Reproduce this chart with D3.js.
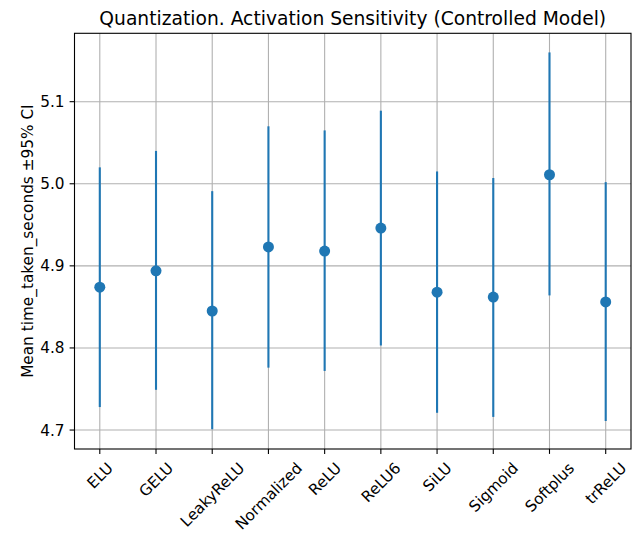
<!DOCTYPE html>
<html lang="en">
  <head>
    <meta charset="utf-8">
    <title>activation sensitivity</title>
    <script type="text/javascript" src="https://d3js.org/d3.v7.min.js"></script>
    <style>
      body { margin: 0; background: #fff; }
      text { font-family: "DejaVu Sans", sans-serif; fill: #000; }
    </style>
  </head>
  <body>

    <svg id="chart"></svg>

    <script type="text/javascript">

    // DATA
    const activations = ['ELU', 'GELU', 'LeakyReLU', 'Normalized', 'ReLU', 'ReLU6', 'SiLU', 'Sigmoid', 'Softplus', 'trReLU'];
    const means = [4.874, 4.894, 4.845, 4.923, 4.918, 4.946, 4.868, 4.862, 5.011, 4.856];
    const ciLow = [4.728, 4.749, 4.701, 4.776, 4.772, 4.803, 4.721, 4.716, 4.864, 4.711];
    const ciHigh = [5.020, 5.040, 4.991, 5.070, 5.065, 5.089, 5.015, 5.007, 5.160, 5.002];
    const yTicks = [4.7, 4.8, 4.9, 5.0, 5.1];

    const data = activations.map((name, i) => ({
      name: name,
      i: i,
      mean: means[i],
      lo: ciLow[i],
      hi: ciHigh[i]
    }));


    // DIMENSIONS

    const width = 643;
    const height = 533;

    const margin = {
      top: 33.3,
      right: 12,
      bottom: 84,
      left: 74.5
    };

    const svg = d3.select('#chart')
      .attr('width', width)
      .attr('height', height);

    // categorical axis like matplotlib: 5% padding either side
    const x = d3.scaleLinear()
      .domain([-0.45, activations.length - 1 + 0.45])
      .range([margin.left, width - margin.right]);

    const y = d3.scaleLinear()
      .domain([4.6769, 5.1833])
      .range([height - margin.bottom, margin.top]);

    const x0 = margin.left, x1 = width - margin.right;
    const y0 = height - margin.bottom, y1 = margin.top;

    const fs = 15.3; // tick + axis label size


    // GRID

    const grid = svg.append('g');

    grid.selectAll('line.gx')
      .data(data)
      .join('line')
      .attr('class', 'gx')
      .attr('x1', d => x(d.i))
      .attr('x2', d => x(d.i))
      .attr('y1', y0)
      .attr('y2', y1);

    grid.selectAll('line.gy')
      .data(yTicks)
      .join('line')
      .attr('class', 'gy')
      .attr('x1', x0)
      .attr('x2', x1)
      .attr('y1', d => y(d))
      .attr('y2', d => y(d));

    grid.selectAll('line')
      .attr('stroke', '#b0b0b0')
      .attr('stroke-width', 1.1);


    // ERROR BARS

    svg.append('g')
      .selectAll('line')
      .data(data)
      .join('line')
      .attr('x1', d => x(d.i))
      .attr('x2', d => x(d.i))
      .attr('y1', d => y(d.lo))
      .attr('y2', d => y(d.hi))
      .attr('stroke', '#1f77b4')
      .attr('stroke-width', 2.1);

    svg.append('g')
      .selectAll('circle')
      .data(data)
      .join('circle')
      .attr('cx', d => x(d.i))
      .attr('cy', d => y(d.mean))
      .attr('r', 5.5)
      .attr('fill', '#1f77b4');


    // AXES

    svg.append('rect')
      .attr('x', x0)
      .attr('y', y1)
      .attr('width', x1 - x0)
      .attr('height', y0 - y1)
      .attr('fill', 'none')
      .attr('stroke', '#000')
      .attr('stroke-width', 1.1);

    // y ticks
    const yAxis = svg.append('g');
    yAxis.selectAll('line')
      .data(yTicks)
      .join('line')
      .attr('x1', x0 - 4.9)
      .attr('x2', x0)
      .attr('y1', d => y(d))
      .attr('y2', d => y(d))
      .attr('stroke', '#000')
      .attr('stroke-width', 1.1);

    yAxis.selectAll('text')
      .data(yTicks)
      .join('text')
      .text(d => d3.format('.1f')(d))
      .attr('x', x0 - 4.9 - 5)
      .attr('y', d => y(d))
      .attr('dy', '0.36em')
      .attr('text-anchor', 'end')
      .style('font-size', fs + 'px');

    // x ticks
    const xAxis = svg.append('g');
    xAxis.selectAll('line')
      .data(data)
      .join('line')
      .attr('x1', d => x(d.i))
      .attr('x2', d => x(d.i))
      .attr('y1', y0)
      .attr('y2', y0 + 4.9)
      .attr('stroke', '#000')
      .attr('stroke-width', 1.1);

    const labelTop = y0 + 10;

    xAxis.selectAll('text')
      .data(data)
      .join('text')
      .text(d => d.name)
      .attr('text-anchor', 'middle')
      .attr('dy', '0.36em')
      .style('font-size', fs + 'px')
      .attr('transform', function (d) {
        // rotated bbox centred on the tick, top edge at labelTop
        const w = this.getComputedTextLength();
        const h = fs * 1.16;
        const half = (w + h) * Math.SQRT1_2 / 2;
        return `translate(${x(d.i)}, ${labelTop + half}) rotate(-45)`;
      });


    // LABELS

    svg.append('text')
      .text('Quantization. Activation Sensitivity (Controlled Model)')
      .attr('x', (x0 + x1) / 2)
      .attr('y', 24.5)
      .attr('text-anchor', 'middle')
      .style('font-size', '18.7px');

    svg.append('text')
      .text('Mean time_taken_seconds ±95% CI')
      .attr('transform', `translate(33, ${(y0 + y1) / 2}) rotate(-90)`)
      .attr('text-anchor', 'middle')
      .style('font-size', fs + 'px');

    </script>
  </body>
</html>
